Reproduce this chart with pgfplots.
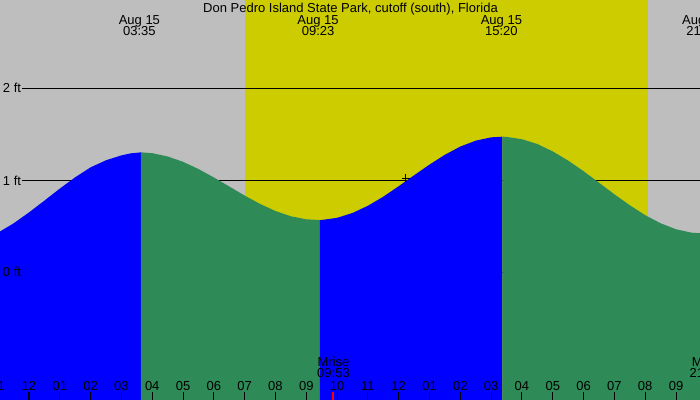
\documentclass[border=0pt]{standalone}
\usepackage{pgfplots}
\pgfplotsset{compat=1.18}
\usepackage{fontspec}
\setmainfont{Liberation Sans}

\definecolor{bgray}{RGB}{190,190,190}
\definecolor{dayyel}{RGB}{204,204,0}
\definecolor{risecol}{RGB}{0,0,255}
\definecolor{fallcol}{RGB}{46,139,87}
\tikzset{lbl/.style={font=\fontsize{9.75pt}{11pt}\selectfont, inner sep=0pt, anchor=base}}

\begin{document}
\begin{tikzpicture}
\begin{axis}[
  scale only axis, width=525pt, height=300pt,
  xmin=-0.941, xmax=21.779, ymin=-1.391, ymax=2.957,
  hide axis,
]
% night background and daylight band (sunrise 07:01, sunset 20:05)
\addplot[draw=none, fill=bgray] coordinates {(-2,-2) (23,-2) (23,4) (-2,4)};
\addplot[draw=none, fill=dayyel] coordinates {(7.01,-2) (20.075,-2) (20.075,4) (7.01,4)};

% height lines
\addplot[black, line width=0.75pt] coordinates {(-0.227,2) (23,2)};
\addplot[black, line width=0.75pt] coordinates {(-0.227,1) (23,1)};
\addplot[black, line width=0.75pt] coordinates {(-0.227,0) (23,0)};

% rising tide
\addplot[draw=none, fill=risecol] coordinates {
  (-1,-2) (-1,0.429) (-0.5,0.529) (0,0.648) (0.5,0.776) (1,0.907) (1.5,1.030)
  (2,1.138) (2.5,1.215) (3,1.268) (3.3,1.290) (3.635,1.301) (3.635,-2)};
% falling tide
\addplot[draw=none, fill=fallcol] coordinates {
  (3.635,-2) (3.635,1.301) (4,1.292) (4.5,1.256) (5,1.198) (5.5,1.120) (6,1.028)
  (6.5,0.930) (7,0.831) (7.5,0.740) (8,0.663) (8.5,0.606) (9,0.573) (9.445,0.565) (9.445,-2)};
% rising tide
\addplot[draw=none, fill=risecol] coordinates {
  (9.445,-2) (9.445,0.565) (9.5,0.566) (10,0.589) (10.5,0.642) (11,0.720) (11.5,0.819)
  (12,0.933) (12.5,1.052) (13,1.168) (13.5,1.275) (14,1.364) (14.5,1.428) (15,1.464)
  (15.368,1.471) (15.368,-2)};
% falling tide
\addplot[draw=none, fill=fallcol] coordinates {
  (15.368,-2) (15.368,1.471) (15.5,1.469) (16,1.444) (16.5,1.391) (17,1.311) (17.5,1.211)
  (18,1.096) (18.5,0.971) (19,0.845) (19.5,0.726) (20,0.618) (20.5,0.530) (21,0.465)
  (21.5,0.428) (21.867,0.420) (22,0.421) (22,-2)};

% hour ticks
\pgfplotsinvokeforeach{-1,...,21}{
  \addplot[black, line width=0.75pt] coordinates {(#1,-1.304) (#1,-1.5)};
}
\addplot[black, line width=2.1pt] coordinates {(0,-1.304) (0,-1.5)};
\addplot[red, line width=1.5pt] coordinates {(9.883,-1.304) (9.883,-1.5)};

% current time marker
\addplot[black, only marks, mark=+, mark size=3pt, mark options={line width=0.75pt}]
  coordinates {(12.236,1.018)};

% labels
\node[lbl] at (axis cs:10.435,2.823) {Don Pedro Island State Park, cutoff (south), Florida};
\node[lbl] at (axis cs:3.583,2.692) {Aug 15};
\node[lbl] at (axis cs:3.583,2.568) {03:35};
\node[lbl] at (axis cs:9.383,2.692) {Aug 15};
\node[lbl] at (axis cs:9.383,2.568) {09:23};
\node[lbl] at (axis cs:15.333,2.692) {Aug 15};
\node[lbl] at (axis cs:15.333,2.568) {15:20};
\node[lbl] at (axis cs:21.867,2.692) {Aug 15};
\node[lbl] at (axis cs:21.867,2.568) {21:52};

\node[lbl, anchor=base west] at (axis cs:-0.854,1.953) {2 ft};
\node[lbl, anchor=base west] at (axis cs:-0.854,0.946) {1 ft};
\node[lbl, anchor=base west] at (axis cs:-0.854,-0.054) {0 ft};

\node[lbl] at (axis cs:9.883,-1.022) {Mrise};
\node[lbl] at (axis cs:9.883,-1.149) {09:53};
\node[lbl] at (axis cs:21.97,-1.022) {Mset};
\node[lbl] at (axis cs:21.97,-1.149) {21:58};

\foreach \t/\l in {-1/11,0/12,1/01,2/02,3/03,4/04,5/05,6/06,7/07,8/08,9/09,10/10,
  11/11,12/12,13/01,14/02,15/03,16/04,17/05,18/06,19/07,20/08,21/09}{
  \edef\tmp{\noexpand\node[lbl] at (axis cs:\t,-1.283) {\l};}\tmp
}

\coordinate (sw) at (rel axis cs:0,0);
\coordinate (ne) at (rel axis cs:1,1);
\end{axis}
\pgfresetboundingbox
\path[use as bounding box] (sw) rectangle (ne);
\end{tikzpicture}
\end{document}
